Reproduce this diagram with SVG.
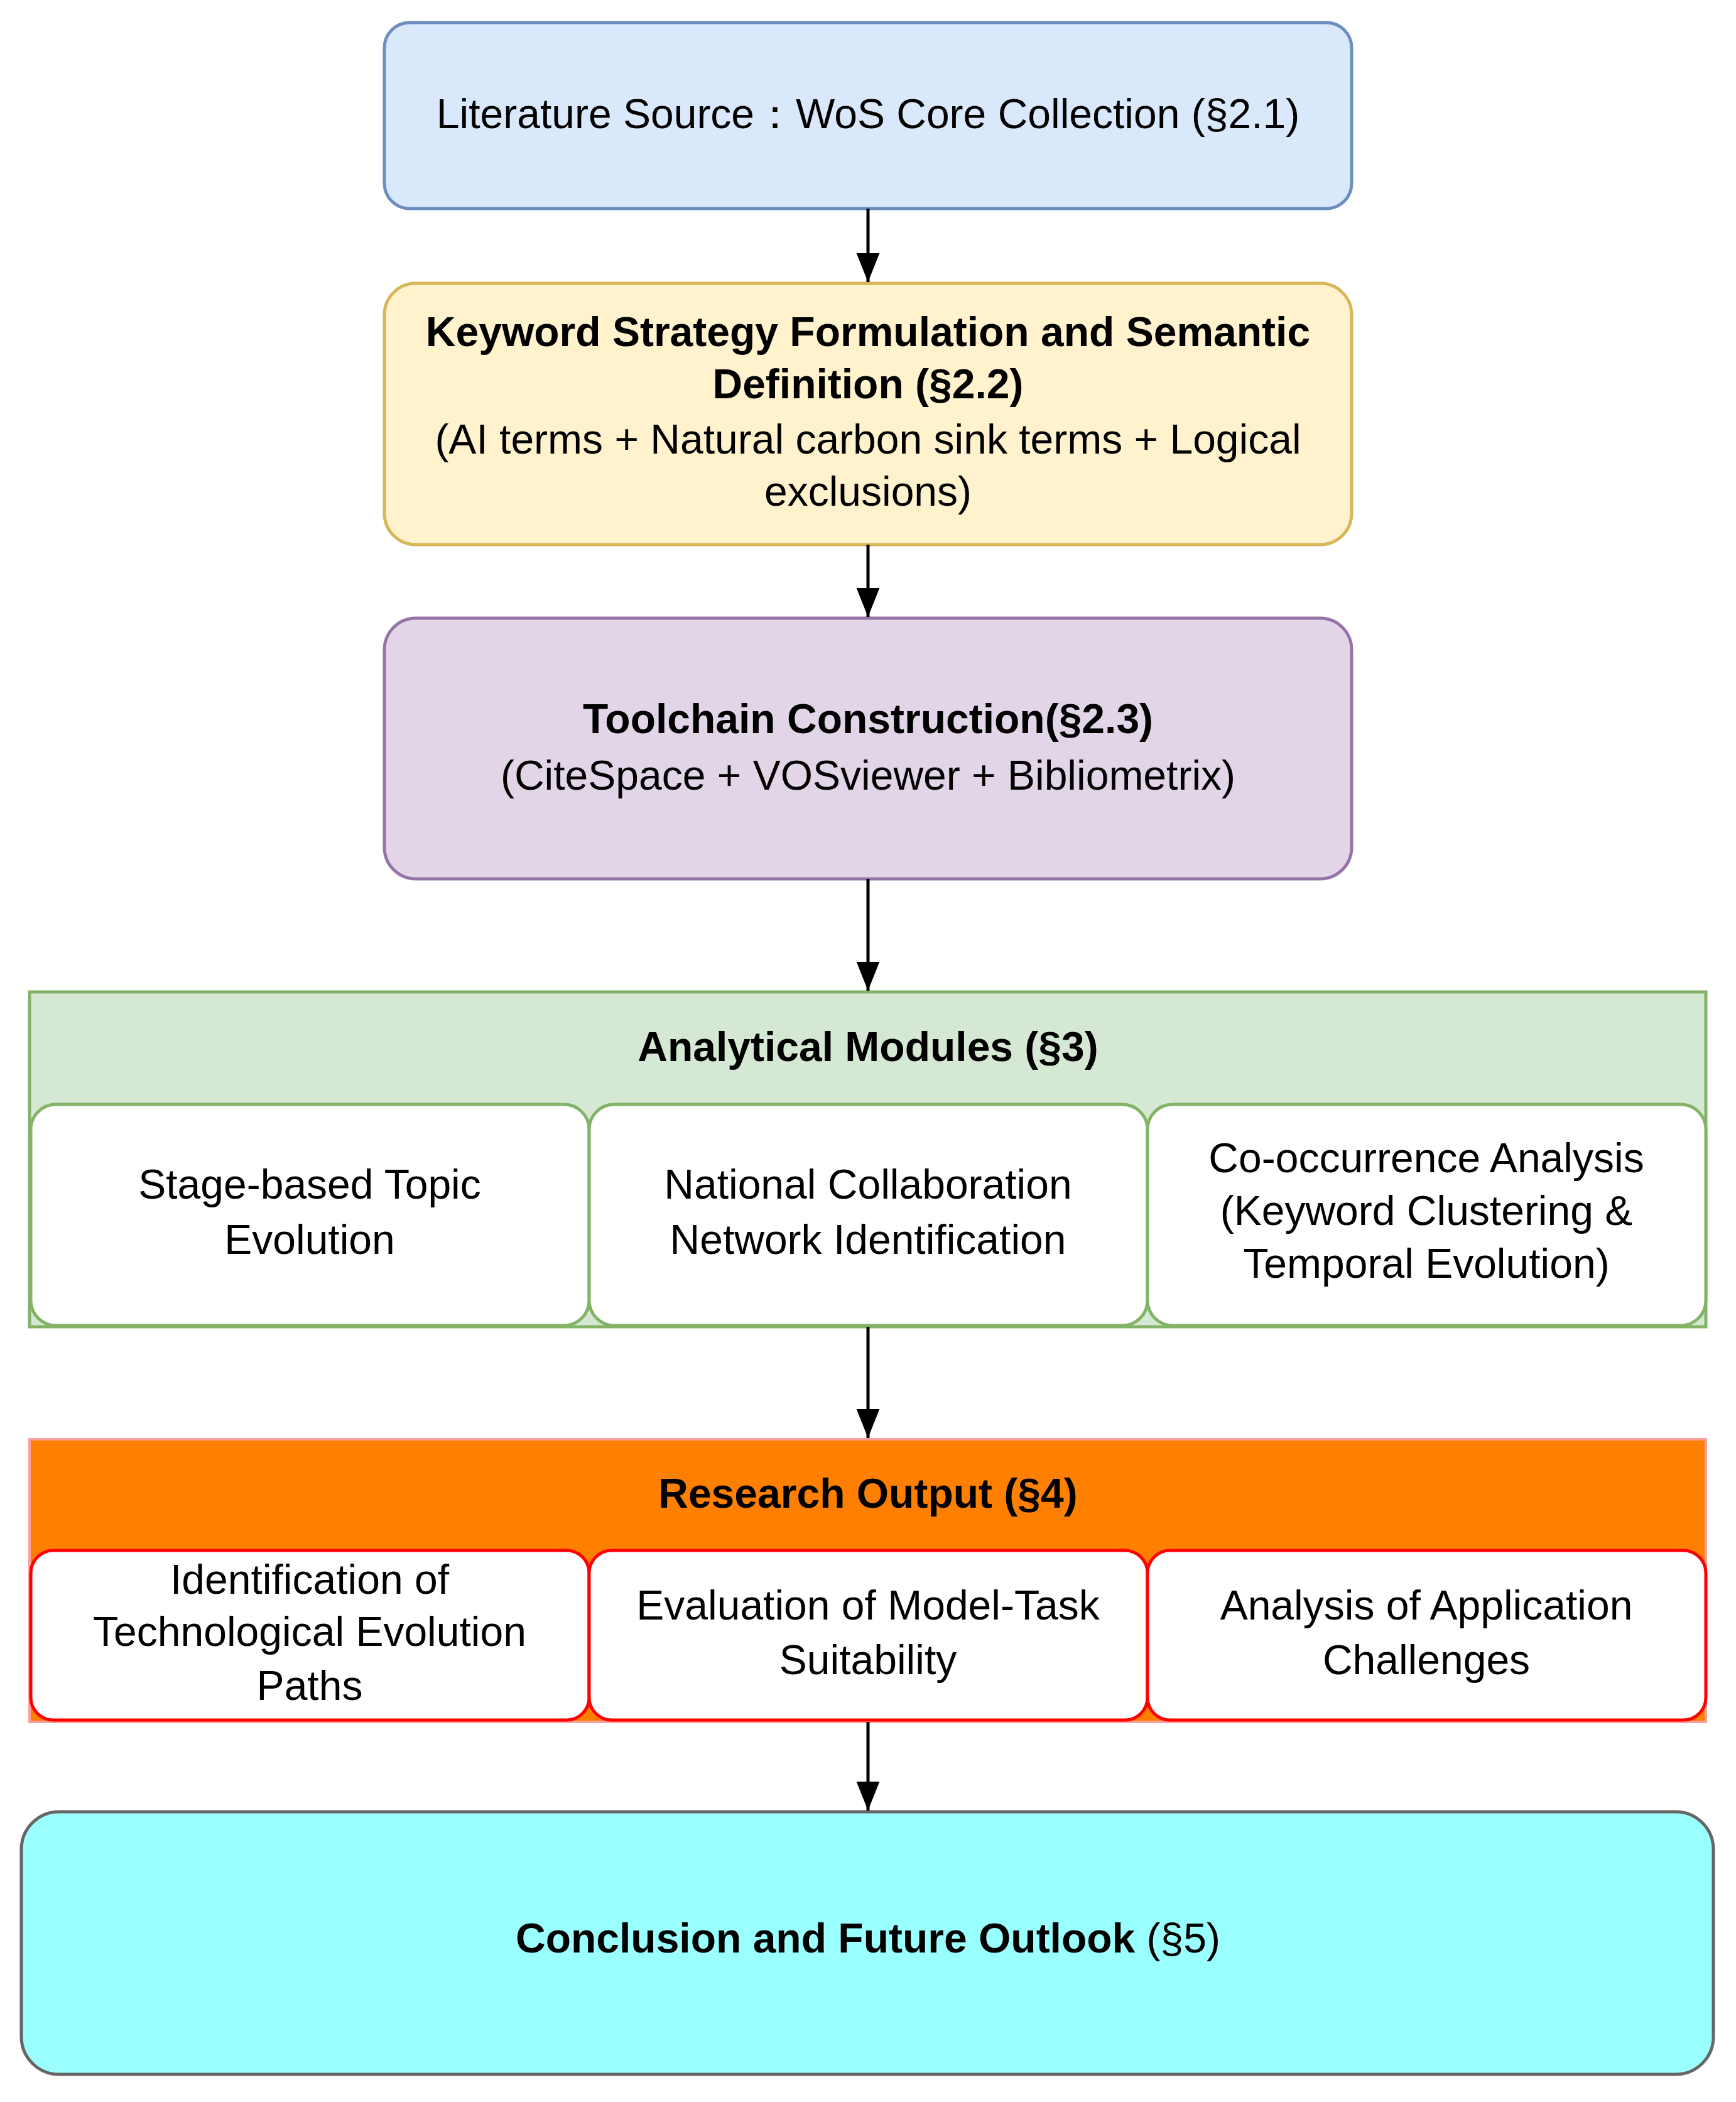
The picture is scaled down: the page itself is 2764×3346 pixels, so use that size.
<svg xmlns="http://www.w3.org/2000/svg" width="2764" height="3346" viewBox="0 0 2764 3346">
<style>
text{font-family:"Liberation Sans",Arial,sans-serif;font-size:66px;fill:#000;text-anchor:middle}
.b{font-weight:bold}
.c{stroke:#000;stroke-width:5;fill:none}
</style>
<defs><marker id="a" markerWidth="10" markerHeight="10" refX="9" refY="5" orient="auto" markerUnits="userSpaceOnUse" viewBox="0 0 10 10"><path d="M0,0L10,5L0,10z" fill="#000"/></marker>
<marker id="ah" viewBox="0 0 10 10" refX="10" refY="5" markerWidth="46" markerHeight="46" markerUnits="userSpaceOnUse" orient="auto"><path d="M0,1L10,5L0,9z" fill="#000"/></marker></defs>
<rect width="2764" height="3346" fill="#fff"/>
<g id="n1"><rect x="612" y="36" width="1540" height="296" rx="40" fill="#dae8fc" stroke="#6c8ebf" stroke-width="5"/>
<text x="1382" y="204">Literature Source：WoS Core Collection (§2.1)</text></g>
<g id="n2"><rect x="612" y="451" width="1540" height="416" rx="50" fill="#fff2cc" stroke="#d6b656" stroke-width="5"/>
<text class="b" x="1382" y="551">Keyword Strategy Formulation and Semantic</text>
<text class="b" x="1382" y="634">Definition (§2.2)</text>
<text x="1382" y="722">(AI terms + Natural carbon sink terms + Logical</text>
<text x="1382" y="805">exclusions)</text></g>
<g id="n3"><rect x="612" y="984" width="1540" height="415" rx="50" fill="#e1d5e7" stroke="#9673a6" stroke-width="5"/>
<text class="b" x="1382" y="1167">Toolchain Construction(§2.3)</text>
<text x="1382" y="1257">(CiteSpace + VOSviewer + Bibliometrix)</text></g>
<g id="n4"><rect x="47" y="1579" width="2669" height="533" fill="#d5e8d4" stroke="#82b366" stroke-width="5"/>
<text class="b" x="1382" y="1689">Analytical Modules (§3)</text>
<rect x="49" y="1758" width="889" height="352" rx="40" fill="#fff" stroke="#82b366" stroke-width="5"/>
<rect x="938" y="1758" width="889" height="352" rx="40" fill="#fff" stroke="#82b366" stroke-width="5"/>
<rect x="1827" y="1758" width="889" height="352" rx="40" fill="#fff" stroke="#82b366" stroke-width="5"/>
<text x="493" y="1908">Stage-based Topic</text><text x="493" y="1996">Evolution</text>
<text x="1382" y="1908">National Collaboration</text><text x="1382" y="1996">Network Identification</text>
<text x="2271" y="1866">Co-occurrence Analysis</text><text x="2271" y="1950">(Keyword Clustering &amp;</text><text x="2271" y="2034">Temporal Evolution)</text></g>
<g id="n5"><rect x="47" y="2291" width="2669" height="450" fill="#ff8000" stroke="#f8a0a0" stroke-width="4"/>
<text class="b" x="1382" y="2400">Research Output (§4)</text>
<rect x="49" y="2468" width="889" height="270" rx="36" fill="#fff" stroke="#ff0000" stroke-width="5"/>
<rect x="938" y="2468" width="889" height="270" rx="36" fill="#fff" stroke="#ff0000" stroke-width="5"/>
<rect x="1827" y="2468" width="889" height="270" rx="36" fill="#fff" stroke="#ff0000" stroke-width="5"/>
<text x="493" y="2537">Identification of</text><text x="493" y="2620">Technological Evolution</text><text x="493" y="2706">Paths</text>
<text x="1382" y="2578">Evaluation of Model-Task</text><text x="1382" y="2665">Suitability</text>
<text x="2271" y="2578">Analysis of Application</text><text x="2271" y="2665">Challenges</text></g>
<g id="n6"><rect x="34" y="2884" width="2694" height="418" rx="60" fill="#99ffff" stroke="#666" stroke-width="5"/>
<text x="1382" y="3108"><tspan class="b">Conclusion and Future Outlook</tspan> (§5)</text></g>
<g id="connectors">
<line class="c" x1="1382" y1="332" x2="1382" y2="449" marker-end="url(#ah)"/>
<line class="c" x1="1382" y1="867" x2="1382" y2="982" marker-end="url(#ah)"/>
<line class="c" x1="1382" y1="1399" x2="1382" y2="1577" marker-end="url(#ah)"/>
<line class="c" x1="1382" y1="2112" x2="1382" y2="2289" marker-end="url(#ah)"/>
<line class="c" x1="1382" y1="2741" x2="1382" y2="2882" marker-end="url(#ah)"/>
</g>
</svg>
